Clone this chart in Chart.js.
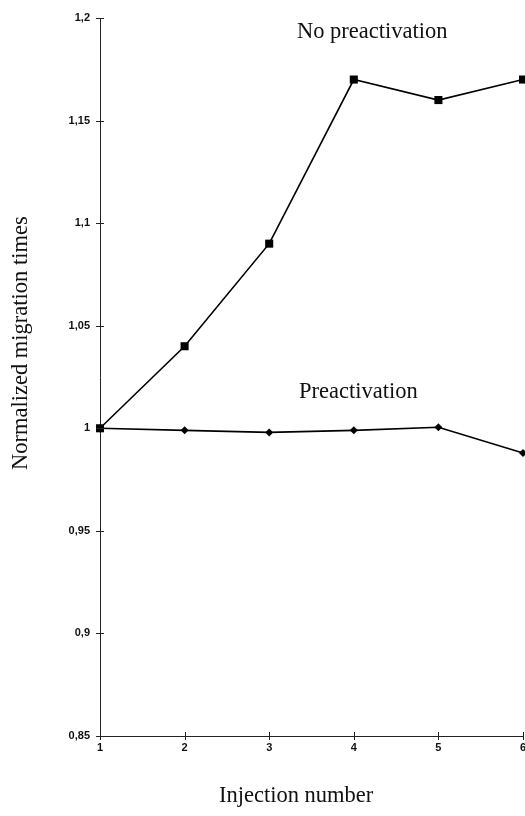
<!DOCTYPE html>
<html>
<head>
<meta charset="utf-8">
<script src="https://cdn.jsdelivr.net/npm/chart.js@4/dist/chart.umd.min.js"></script>
<style>
  html, body { margin: 0; padding: 0; background: #fff; }
  #wrap { width: 525px; height: 816px; }
</style>
</head>
<body>
<div id="wrap"><canvas id="migrationChart" width="525" height="816"></canvas></div>
<script>
injections = [1, 2, 3, 4, 5, 6];
noPreactivation = [1, 1.04, 1.09, 1.17, 1.16, 1.17];
preactivation = [1, 0.999, 0.998, 0.999, 1.0005, 0.988];

function toPoints(values){
  var pts = [];
  for(var i = 0; i < values.length; i++){
    pts.push({x: injections[i], y: values[i]});
  }
  return pts;
}

function commaLabel(v){
  return String(Math.round(v * 100) / 100).replace('.', ',');
}

// ticks in the scan cross the axis line, so draw them here
const crossTicks = {
  id: 'crossTicks',
  afterDraw(chart){
    const ctx = chart.ctx;
    const xs = chart.scales.x, ys = chart.scales.y;
    ctx.save();
    ctx.strokeStyle = '#222';
    ctx.lineWidth = 1;
    ctx.beginPath();
    ys.ticks.forEach(t => {
      const py = Math.round(ys.getPixelForValue(t.value)) + 0.5;
      ctx.moveTo(xs.left - 4, py);
      ctx.lineTo(xs.left + 4, py);
    });
    xs.ticks.forEach(t => {
      const px = Math.round(xs.getPixelForValue(t.value)) + 0.5;
      ctx.moveTo(px, ys.bottom - 4);
      ctx.lineTo(px, ys.bottom + 4);
    });
    ctx.stroke();
    ctx.restore();
  }
};

const texts = {
  id: 'texts',
  afterDraw(chart){
    const ctx = chart.ctx;
    ctx.save();
    ctx.fillStyle = '#111';
    ctx.font = '22.5px "Liberation Serif", "Times New Roman", serif';
    ctx.textAlign = 'left';
    ctx.textBaseline = 'alphabetic';
    ctx.fillText('No preactivation', 297, 38);
    ctx.fillText('Preactivation', 299, 398);
    ctx.fillText('Injection number', 219, 802);
    ctx.translate(27, 470);
    ctx.rotate(-Math.PI / 2);
    ctx.fillText('Normalized migration times', 0, 0);
    ctx.restore();
  }
};

new Chart(document.getElementById('migrationChart'), {
  type: 'line',
  data: {
    datasets: [{
      label: 'No preactivation',
      data: toPoints(noPreactivation),
      borderColor: '#000',
      backgroundColor: '#000',
      borderWidth: 1.6,
      pointStyle: 'rect',
      pointRadius: 5.7,
      pointBorderWidth: 0,
      tension: 0,
      clip: false
    }, {
      label: 'Preactivation',
      data: toPoints(preactivation),
      borderColor: '#000',
      backgroundColor: '#000',
      borderWidth: 1.6,
      pointStyle: 'rectRot',
      pointRadius: 4,
      pointBorderWidth: 0,
      tension: 0,
      clip: false
    }]
  },
  options: {
    responsive: false,
    animation: false,
    layout: { autoPadding: false, padding: { top: 18, right: 2, left: 0, bottom: 0 } },
    plugins: { legend: { display: false }, tooltip: { enabled: false } },
    scales: {
      x: {
        type: 'linear',
        min: 1,
        max: 6,
        grid: { display: false, drawTicks: false },
        border: { display: true, color: '#222', width: 1 },
        ticks: {
          stepSize: 1,
          padding: 5,
          color: '#111',
          font: { family: '"Liberation Sans", Arial, sans-serif', size: 11, weight: 'bold' }
        },
        afterFit(scale){
          scale.height = 80;
          scale.paddingLeft = 0;
          scale.paddingRight = 0;
        }
      },
      y: {
        min: 0.85,
        max: 1.2,
        grid: { display: false, drawTicks: false },
        border: { display: true, color: '#222', width: 1 },
        ticks: {
          stepSize: 0.05,
          padding: 10,
          color: '#111',
          font: { family: '"Liberation Sans", Arial, sans-serif', size: 11, weight: 'bold' },
          callback: function(v){ return commaLabel(v); }
        },
        afterFit(scale){
          scale.width = 100;
          scale.paddingTop = 0;
          scale.paddingBottom = 0;
        }
      }
    }
  },
  plugins: [crossTicks, texts]
});
</script>
</body>
</html>
